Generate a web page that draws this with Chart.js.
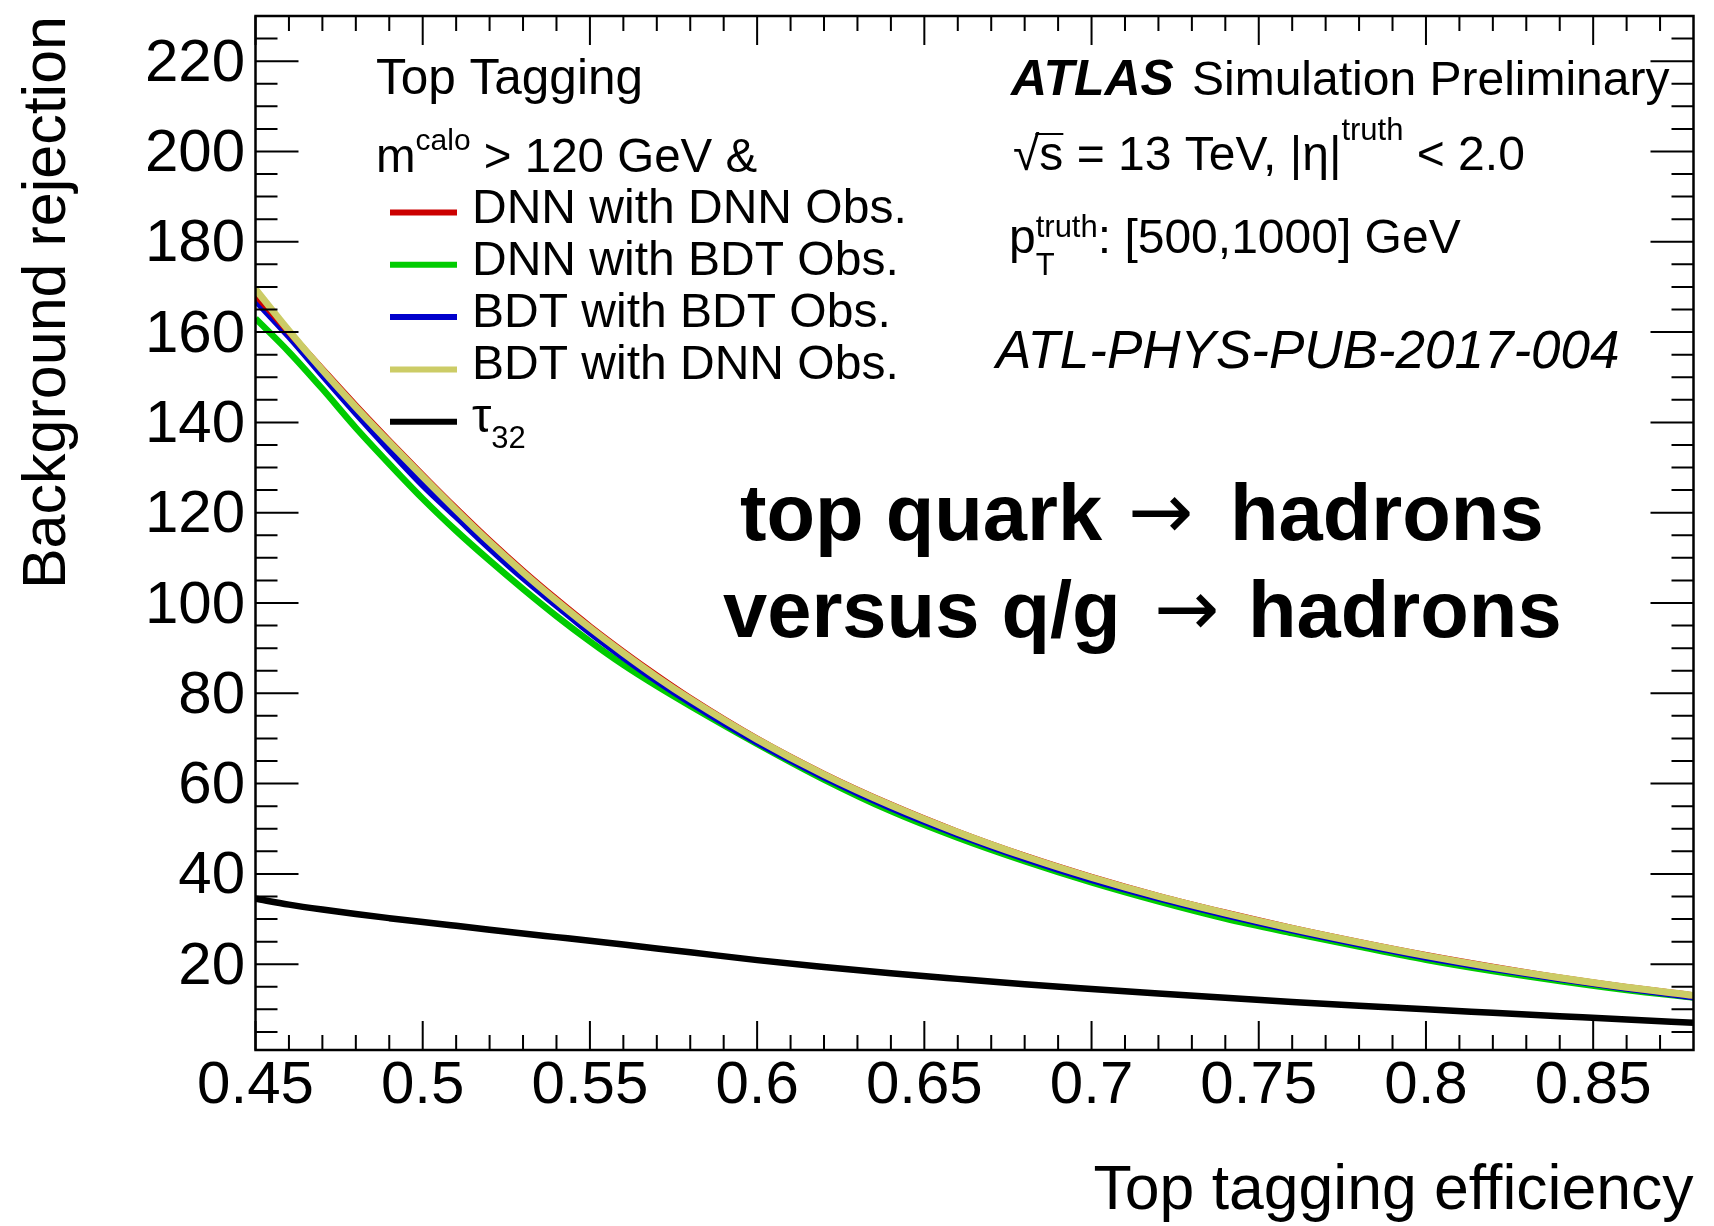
<!DOCTYPE html>
<html>
<head>
<meta charset="utf-8">
<script src="https://cdn.jsdelivr.net/npm/chart.js@4.4.1/dist/chart.umd.min.js"></script>
<style>
  html, body { margin: 0; padding: 0; background: #fff; }
  #wrap { width: 1714px; height: 1226px; }
</style>
</head>
<body>
<div id="wrap"><canvas id="roc"></canvas></div>
<script>
// top tagging efficiency (x) and background rejection (y) for each tagger
const efficiency = [0.45, 0.46, 0.47, 0.48, 0.49, 0.50, 0.51, 0.52, 0.53, 0.54, 0.55, 0.56, 0.57, 0.58,
                    0.60, 0.62, 0.64, 0.66, 0.68, 0.70, 0.72, 0.74, 0.76, 0.78, 0.80, 0.82, 0.84, 0.86, 0.88];
const dnnDnnObs = [168.3, 160.0, 151.8, 143.7, 135.9, 128.3, 120.9, 113.8, 107.1, 100.8, 94.8, 89.2, 83.9, 78.9,
                   69.9, 62.1, 55.3, 49.3, 44.0, 39.3, 35.1, 31.4, 28.0, 24.9, 22.0, 19.4, 17.0, 14.9, 13.1];
const dnnBdtObs = [163.0, 155.6, 147.4, 138.8, 130.8, 123.1, 116.0, 109.4, 103.1, 97.1, 91.5, 86.3, 81.6, 77.2,
                   68.8, 60.9, 53.9, 48.0, 42.8, 38.1, 33.9, 30.1, 26.9, 23.9, 21.0, 18.5, 16.3, 14.3, 12.6];
const bdtBdtObs = [167.0, 159.0, 150.4, 142.0, 133.9, 126.1, 119.1, 112.1, 105.5, 99.4, 93.4, 87.9, 82.7, 77.9,
                   69.1, 61.4, 54.6, 48.7, 43.4, 38.7, 34.6, 30.9, 27.5, 24.4, 21.5, 19.0, 16.7, 14.6, 12.7];
const bdtDnnObs = [169.5, 160.3, 151.6, 143.4, 135.6, 128.0, 120.6, 113.5, 106.8, 100.5, 94.5, 88.9, 83.6, 78.7,
                   69.8, 62.0, 55.2, 49.2, 43.9, 39.2, 35.0, 31.3, 27.9, 24.8, 21.9, 19.3, 17.0, 14.9, 13.1];
const tau32 = [34.5, 33.2, 32.1, 31.1, 30.2, 29.35, 28.5, 27.65, 26.8, 26.0, 25.2, 24.35, 23.5, 22.65,
               20.9, 19.4, 18.0, 16.75, 15.55, 14.5, 13.5, 12.55, 11.65, 10.8, 10.0, 9.25, 8.5, 7.75, 7.05];

const seriesLabels = ['DNN with DNN Obs.', 'DNN with BDT Obs.', 'BDT with BDT Obs.', 'BDT with DNN Obs.', 'τ32'];
const xTicks = [0.45, 0.5, 0.55, 0.6, 0.65, 0.7, 0.75, 0.8, 0.85];
const yTicks = [20, 40, 60, 80, 100, 120, 140, 160, 180, 200, 220];

const FONT = '"Liberation Sans", Arial, Helvetica, sans-serif';
const colors = ['rgb(204, 0, 0)', 'rgb(0, 204, 0)', 'rgb(0, 0, 204)', 'rgb(204, 204, 102)', 'rgb(0, 0, 0)'];
const drawOrder = [1, 3, 2, 0, 4];   // olive on top, like the original
const seriesData = [dnnDnnObs, dnnBdtObs, bdtBdtObs, bdtDnnObs, tau32];

const toPoints = ys => efficiency.map((e, i) => ({x: e, y: ys[i]}));

// draw a run of text pieces (for super/subscripts)
function rich(ctx, x, y, parts, family) {
  let adv = 0;
  for (const p of parts) {
    ctx.font = `${p.style || ''} ${p.size}px ${family || FONT}`;
    ctx.fillText(p.text, x, y + (p.dy || 0));
    const w = ctx.measureText(p.text).width;
    if (p.stack) { adv = Math.max(adv, w); continue; }
    x += Math.max(w, adv);
    adv = 0;
  }
  return x;
}

const frameAndText = {
  id: 'frameAndText',
  afterDatasetsDraw(chart) {
    const {ctx, chartArea: a, scales: {x, y}} = chart;
    ctx.save();
    ctx.strokeStyle = '#000';
    ctx.lineWidth = 2;
    ctx.beginPath();
    for (let i = 0; ; i++) {
      const v = Math.round((x.min + i * 0.01) * 1000) / 1000;
      if (v > x.max - 1e-6) break;
      const major = xTicks.some(t => Math.abs(t - v) < 1e-6);
      const len = major ? 29 : 15;
      const px = x.getPixelForValue(v);
      ctx.moveTo(px, a.bottom); ctx.lineTo(px, a.bottom - len);
      ctx.moveTo(px, a.top); ctx.lineTo(px, a.top + len);
    }
    for (let v = 5; v < y.max; v += 5) {
      if (v <= y.min) continue;
      const len = yTicks.includes(v) ? 43 : 22;
      const py = y.getPixelForValue(v);
      ctx.moveTo(a.left, py); ctx.lineTo(a.left + len, py);
      ctx.moveTo(a.right, py); ctx.lineTo(a.right - len, py);
    }
    ctx.stroke();
    ctx.lineWidth = 2.5;
    ctx.strokeRect(a.left, a.top, a.right - a.left, a.bottom - a.top);
    ctx.restore();
  },
  afterDraw(chart) {
    const ctx = chart.ctx;
    ctx.save();
    ctx.fillStyle = '#000';
    ctx.textAlign = 'left';
    ctx.textBaseline = 'alphabetic';

    // legend header
    rich(ctx, 376, 94, [{text: 'Top Tagging', size: 49.5}]);
    rich(ctx, 376, 172, [{text: 'm', size: 47.5}, {text: 'calo', size: 30, dy: -22}, {text: ' > 120 GeV &', size: 47.5}]);

    // legend entries from the datasets
    chart.data.datasets.forEach((ds, i) => {
      const yc = 212.5 + i * 52.3;
      ctx.strokeStyle = ds.borderColor;
      ctx.lineWidth = 6;
      ctx.beginPath();
      ctx.moveTo(390, yc); ctx.lineTo(457, yc);
      ctx.stroke();
      const m = ds.label.match(/^(τ)(\d+)$/);
      if (m) {
        rich(ctx, 472, yc + 10, [{text: m[1], size: 49}, {text: m[2], size: 31, dy: 16}]);
      } else {
        rich(ctx, 472, yc + 10, [{text: ds.label, size: 48}]);
      }
    });

    // ATLAS label block
    rich(ctx, 1011, 95, [{text: 'ATLAS', size: 50, style: 'italic bold'}]);
    rich(ctx, 1192, 95, [{text: 'Simulation Preliminary', size: 48}]);

    ctx.font = `48px ${FONT}`;
    const wRoot = ctx.measureText('√').width, wS = ctx.measureText('s').width;
    rich(ctx, 1013, 170, [{text: '√s = 13 TeV, |η|', size: 48}, {text: 'truth', size: 31, dy: -30}, {text: ' < 2.0', size: 48}]);
    ctx.strokeStyle = '#000';
    ctx.lineWidth = 2;
    ctx.beginPath();
    ctx.moveTo(1013 + wRoot * 0.85, 170 - 36); ctx.lineTo(1013 + wRoot + wS, 170 - 36);
    ctx.stroke();

    rich(ctx, 1009, 253, [{text: 'p', size: 48}, {text: 'T', size: 31, dy: 22, stack: true},
      {text: 'truth', size: 31, dy: -16}, {text: ': [500,1000] GeV', size: 48}]);
    rich(ctx, 996, 368, [{text: 'ATL-PHYS-PUB-2017-004', size: 53, style: 'italic'}]);

    // process labels
    ctx.font = `bold 79.5px ${FONT}`;
    ctx.fillText('top quark', 740, 540);
    ctx.fillText('hadrons', 1230, 540);
    ctx.fillText('versus q/g', 723, 637);
    ctx.fillText('hadrons', 1248, 637);
    ctx.textAlign = 'center';
    ctx.font = `78px "DejaVu Sans", ${FONT}`;
    ctx.fillText('→', 1161, 538);
    ctx.fillText('→', 1187, 635);
    ctx.restore();
  }
};

new Chart(document.getElementById('roc'), {
  type: 'line',
  data: {
    datasets: seriesLabels.map((label, i) => ({
      label,
      data: toPoints(seriesData[i]),
      borderColor: colors[i],
      backgroundColor: colors[i],
      borderWidth: i === 3 ? 7 : 6.5,
      pointRadius: 0,
      fill: false,
      cubicInterpolationMode: 'monotone',
      borderJoinStyle: 'round',
      order: drawOrder[i]
    }))
  },
  options: {
    responsive: true,
    maintainAspectRatio: false,
    animation: false,
    layout: {padding: {top: 16, right: 20.5, left: 0, bottom: 0}},
    plugins: {legend: {display: false}, tooltip: {enabled: false}},
    scales: {
      x: {
        type: 'linear', min: 0.45, max: 0.88,
        grid: {display: false, drawTicks: false},
        border: {display: false},
        afterBuildTicks: s => { s.ticks = xTicks.map(v => ({value: v})); },
        afterFit: s => { s.height = 176; s.paddingLeft = 0; s.paddingRight = 0; },
        ticks: {autoSkip: false, maxRotation: 0, padding: 0, color: '#000',
                font: {family: FONT, size: 60}, callback: v => String(v)},
        title: {display: true, text: 'Top tagging efficiency', align: 'end', color: '#000',
                font: {family: FONT, size: 62.5, lineHeight: 1}, padding: {top: 0, bottom: 2.8}}
      },
      y: {
        type: 'linear', min: 1, max: 230,
        grid: {display: false, drawTicks: false},
        border: {display: false},
        afterBuildTicks: s => { s.ticks = yTicks.map(v => ({value: v})); },
        afterFit: s => { s.width = 255.5; s.paddingTop = 0; s.paddingBottom = 0; },
        ticks: {autoSkip: false, padding: 10.5, labelOffset: 3, color: '#000',
                font: {family: FONT, size: 60}, callback: v => String(v)},
        title: {display: true, text: 'Background rejection', align: 'end', color: '#000',
                font: {family: FONT, size: 61, lineHeight: 1}, padding: {top: 17.4, bottom: 0}}
      }
    }
  },
  plugins: [frameAndText]
});
</script>
</body>
</html>
